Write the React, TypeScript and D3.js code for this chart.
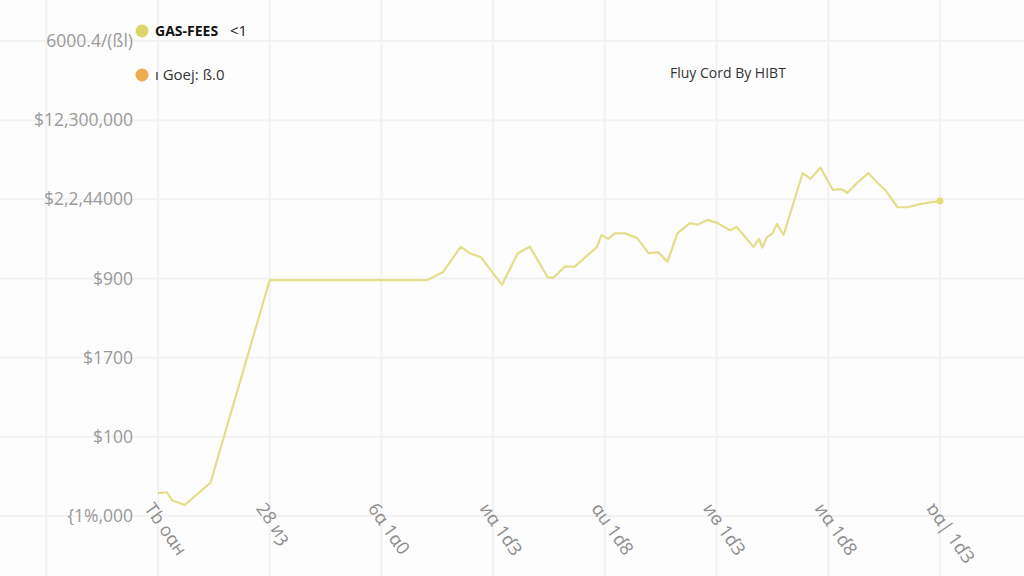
import React from "react";
import * as d3 from "d3";

const yTickValues = [0, 1, 2, 3, 4, 5, 6];
const yTickLabels = ["{1%,000", "$100", "$1700", "$900", "$2,2,44000", "$12,300,000", "6000.4/(ßl)"];

const xTickValues = [0, 10, 20, 30, 40, 50, 60, 70];
const xTickLabels = ["Tb oɑн", "28 иȝ", "6ɑ 1ɑ0", "иɑ 1ɗЗ", "ɑu 1ɗ8", "иɞ 1ɗЗ", "иɑ 1ɗ8", "ɒɑ| 1ɗЗ"];
const xGridValues = [-10, 0, 10, 20, 30, 40, 50, 60, 70, 80];

const days = [
  0, 0.8, 1.25, 2.4, 4.7, 10, 24.1, 25.5, 27.1, 27.9, 28.9, 30.8, 32.2, 33.3, 34.9, 35.4, 36.4, 37.3,
  39.3, 39.7, 40.3, 40.9, 41.8, 42.9, 43.9, 44.8, 45.6, 46.5, 47.6, 48.3, 49.2, 50.1, 51.2, 51.8,
  53.3, 53.8, 54.1, 54.5, 55.0, 55.4, 56.0, 57.7, 58.4, 59.3, 60.4, 61.2, 61.7, 62.6, 63.6, 64.4,
  65.1, 66.2, 67.1, 68.2, 70.0,
];
const gasFees = [
  0.29, 0.3, 0.2, 0.14, 0.42, 2.98, 2.98, 3.08, 3.4, 3.32, 3.27, 2.92, 3.32, 3.4, 3.01, 3.01, 3.15, 3.15,
  3.4, 3.55, 3.5, 3.57, 3.57, 3.51, 3.32, 3.33, 3.21, 3.57, 3.7, 3.68, 3.74, 3.7, 3.61, 3.65,
  3.4, 3.5, 3.39, 3.52, 3.57, 3.69, 3.55, 4.33, 4.26, 4.4, 4.12, 4.13, 4.08, 4.21, 4.33, 4.21,
  4.12, 3.9, 3.9, 3.94, 3.98,
];

const legendLabels = ["GAS-FEES", "ı Goej: ß.0"];
const legendExtra = ["<1", ""];
const legendColors = ["#dcd66a", "#f0aa50"];
const annotation = "Fluy Cord By HIBT";

export default function App() {
  const W = 1024;
  const H = 576;
  const x = d3.scaleLinear().domain([0, 70]).range([158, 940]);
  const y = d3.scaleLinear().domain([0, 6]).range([516, 41]);
  const pts = days.map((d, i) => [d, gasFees[i]] as [number, number]);
  const line = d3
    .line<[number, number]>()
    .x((d) => x(d[0]))
    .y((d) => y(d[1]));
  const last = pts[pts.length - 1];
  const font = "'Open Sans', 'Noto Sans', sans-serif";

  return (
    <svg
      width={W}
      height={H}
      style={{ position: "fixed", left: 0, top: 0, background: "#fdfdfd" }}
      fontFamily={font}
    >
      <rect x={0} y={0} width={W} height={H} fill="#fdfdfd" />
      {xGridValues.map((v) => (
        <line key={"vx" + v} x1={x(v)} x2={x(v)} y1={0} y2={H} stroke="#f2f2f2" strokeWidth={2} />
      ))}
      {yTickValues.map((v) => (
        <line key={"hy" + v} x1={0} x2={W} y1={y(v)} y2={y(v)} stroke="#f2f2f2" strokeWidth={2} />
      ))}
      {yTickValues.map((v, i) => (
        <text
          key={"yl" + v}
          x={133}
          y={y(v)}
          dy="0.35em"
          textAnchor="end"
          fontSize={17.5}
          fill="#9a9a9a"
        >
          {yTickLabels[i]}
        </text>
      ))}
      {xTickValues.map((v, i) => (
        <text
          key={"xl" + v}
          transform={`translate(${x(v) - 9},${505}) rotate(55)`}
          fontSize={18}
          fill="#8f8f8f"
          dy="0.35em"
        >
          {xTickLabels[i]}
        </text>
      ))}
      <path d={line(pts) || ""} fill="none" stroke="#e4de8a" strokeWidth={2.2} strokeLinejoin="round" />
      <circle cx={x(last[0])} cy={y(last[1])} r={3.5} fill="#e4de7a" />
      {legendLabels.map((l, i) => (
        <g key={"lg" + i} transform={`translate(142,${31 + i * 44})`}>
          <circle cx={0} cy={0} r={6.5} fill={legendColors[i]} />
          <text
            x={13}
            y={0}
            dy="0.35em"
            fontSize={i === 0 ? 14 : 15}
            fontWeight={i === 0 ? 700 : 400}
            fill={i === 0 ? "#111" : "#333"}
          >
            {l}
          </text>
          {legendExtra[i] && (
            <text x={88} y={0} dy="0.35em" fontSize={15} fill="#222">
              {legendExtra[i]}
            </text>
          )}
        </g>
      ))}
      <text x={670} y={73} dy="0.35em" fontSize={14} fill="#333">
        {annotation}
      </text>
    </svg>
  );
}
